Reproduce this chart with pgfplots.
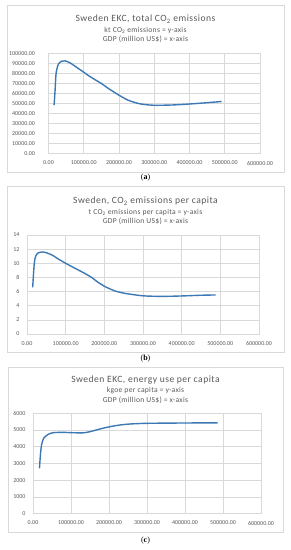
\documentclass[border=0pt]{standalone}
\usepackage{fontspec}
\setmainfont{Carlito}
\newfontfamily\capfont{Liberation Serif}
\usepackage{pgfplots}
\pgfplotsset{compat=1.18}
\definecolor{gridgrey}{HTML}{D9D9D9}
\definecolor{txtgrey}{HTML}{595959}
\definecolor{serblue}{RGB}{60,120,180}
\pgfplotstableread{
x y
15900 48300
18700 63300
21500 80000
28000 89300
37600 92300
47000 92600
61200 90600
84700 85000
100000 81300
113000 78000
132000 73800
151000 69800
170000 65000
200000 58300
226000 53300
255000 50000
273000 49000
300000 48200
350000 48500
400000 49500
450000 50800
491000 52000
}\totalco
\pgfplotstableread{
x y
14700 6.6
18100 9.5
20700 10.7
26700 11.4
38000 11.6
46500 11.55
63800 11.2
81000 10.6
100000 10.0
124000 9.3
150000 8.55
167000 8.0
184000 7.3
202000 6.7
227000 6.1
253000 5.75
300000 5.4
350000 5.32
400000 5.38
450000 5.48
488000 5.52
}\percapco
\pgfplotstableread{
x y
17000 2700
19500 3500
22500 4100
28000 4500
40000 4740
53500 4840
80000 4860
102000 4840
132000 4830
150000 4900
176000 5060
203000 5200
229000 5300
255000 5360
300000 5400
400000 5420
486000 5430
}\energy
\pgfplotsset{
  excel/.style={
    scale only axis,
    axis lines=box,
    axis line style={draw=gridgrey},
    grid=major,
    major grid style={draw=gridgrey, line width=0.5pt},
    major tick length=0pt,
    xmin=0, xmax=600000,
    xtick={0,100000,...,600000},
    scaled x ticks=false, scaled y ticks=false,
    /pgf/number format/assume math mode=true,
    ticklabel style={font=\fontsize{6}{7}\selectfont, text=txtgrey},
    xticklabel={\pgfmathprintnumber[fixed,fixed zerofill,precision=2,1000 sep={}]{\tick}},
    xticklabel style={yshift=-4pt},
    yticklabel style={xshift=-4pt},
  },
  ser/.style={draw=serblue, line width=1.4pt, smooth, tension=0.45, no marks},
}
\newcommand{\ttl}{\fontsize{9.6}{11}\selectfont\addfontfeature{LetterSpace=5}}
\newcommand{\sub}{\fontsize{7.6}{9}\selectfont\addfontfeature{LetterSpace=4}}
\begin{document}
\begin{tikzpicture}[x=1pt,y=1pt]
\path[use as bounding box] (0,0) rectangle (291,550);
% frames
\draw[gridgrey, line width=0.6pt] (7,378) rectangle (284,545);
\draw[gridgrey, line width=0.6pt] (7,198) rectangle (284,364);
\draw[gridgrey, line width=0.6pt] (8,18) rectangle (283,183);
% panel a
\begin{axis}[excel, at={(48.5pt,396.5pt)}, anchor=south west, width=211.5pt, height=100pt,
  ymin=0, ymax=100000, ytick={0,10000,...,100000},
  yticklabel style={xshift=-6pt},
  yticklabel={\pgfmathprintnumber[fixed,fixed zerofill,precision=2,1000 sep={}]{\tick}}]
\addplot[ser] table {\totalco};
\end{axis}
\node[text=txtgrey, inner sep=0] at (145.5,531) {\ttl Sweden EKC, total CO\textsubscript{2} emissions};
\node[text=txtgrey, inner sep=0] at (145.5,520) {\sub kt CO\textsubscript{2} emissions = y-axis};
\node[text=txtgrey, inner sep=0] at (145.5,511) {\sub GDP (million US\$) = x-axis};
\node[inner sep=0] at (145.5,372) {\capfont\fontsize{8}{9}\selectfont (\textbf{a})};
% panel b
\begin{axis}[excel, at={(27pt,216pt)}, anchor=south west, width=232pt, height=99pt,
  ymin=0, ymax=14, ytick={0,2,...,14}]
\addplot[ser] table {\percapco};
\end{axis}
\node[text=txtgrey, inner sep=0] at (145.5,349) {\ttl Sweden, CO\textsubscript{2} emissions per capita};
\node[text=txtgrey, inner sep=0] at (145.5,338) {\sub t CO\textsubscript{2} emissions per capita = y-axis};
\node[text=txtgrey, inner sep=0] at (145.5,328.5) {\sub GDP (million US\$) = x-axis};
\node[inner sep=0] at (145.5,191) {\capfont\fontsize{8}{9}\selectfont (\textbf{b})};
% panel c
\begin{axis}[excel, at={(33pt,36.5pt)}, anchor=south west, width=228pt, height=100.2pt,
  ymin=0, ymax=6000, ytick={0,1000,...,6000},
  yticklabel={\pgfmathprintnumber[fixed,precision=0,1000 sep={}]{\tick}}]
\addplot[ser] table {\energy};
\end{axis}
\node[text=txtgrey, inner sep=0] at (145.5,170) {\ttl Sweden EKC, energy use per capita};
\node[text=txtgrey, inner sep=0] at (145.5,159) {\sub kgoe per capita = y-axis};
\node[text=txtgrey, inner sep=0] at (145.5,149.5) {\sub GDP (million US\$) = x-axis};
\node[inner sep=0] at (145.5,9) {\capfont\fontsize{8}{9}\selectfont (\textbf{c})};
\end{tikzpicture}
\end{document}
